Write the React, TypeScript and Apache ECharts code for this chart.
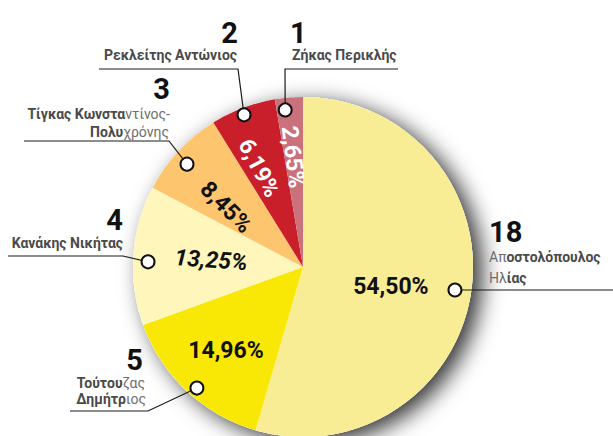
import React, { useEffect, useRef } from 'react';
import * as echarts from 'echarts';

// ---- data ----
const names = [
  'Αποστολόπουλος Ηλίας',
  'Τούτουζας Δημήτριος',
  'Κανάκης Νικήτας',
  'Τίγκας Κωνσταντίνος-Πολυχρόνης',
  'Ρεκλείτης Αντώνιος',
  'Ζήκας Περικλής',
];
const ranks = [18, 5, 4, 3, 2, 1];
const shares = [54.5, 14.96, 13.25, 8.45, 6.19, 2.65];

// ---- styling / layout ----
const colors = ['#F8EC94', '#F9E805', '#FFF6BC', '#FDC66E', '#C81F2B', '#C9727B'];
const pctColors = ['#111', '#111', '#111', '#111', '#fff', '#fff'];
const pctRotate = [0, 0, -4, -45, -62, -83];
const pctItalic = [false, false, true, false, false, false];
// [angle offset from slice middle (deg), radius fraction]
const pctPolar: [number, number][] = [
  [4.7, 0.53], [-0.6, 0.67], [0.4, 0.543], [-5.1, 0.574], [-3.3, 0.637], [-0.4, 0.65],
];
const markerPolar: [number, number][] = [
  [0.5, 0.904], [-1.9, 0.947], [-2.0, 0.912], [-1.4, 0.912], [-0.5, 0.96], [-1.7, 0.93],
];
// callout layout: align, rank pos, name lines, leader path (after marker)
const callouts = [
  {
    align: 'left', rank: [489, 232],
    lines: [['{l|Απ}{b|οστολόπουλος}', 489, 257], ['{l|Ηλ}{b|ίας}', 489, 278]],
    path: [[613, 'm']],
  },
  {
    align: 'right', rank: [143, 360],
    lines: [['{b|Τούτου}{l|ζας}', 145, 383], ['{b|Δημήτρ}{l|ιος}', 146, 399]],
    path: [[148, 411], [70, 411]],
  },
  {
    align: 'right', rank: [123, 220],
    lines: [['{b|Κανάκης Νικήτας}', 123, 243]],
    path: [[123, 256], [8, 256]],
  },
  {
    align: 'right', rank: [170, 89],
    lines: [['{b|Τίγκας Κωνστα}{l|ντίνος-}', 170, 114], ['{b|Πολυ}{l|χρόνης}', 169, 132]],
    path: [[169, 141], [24, 141]],
  },
  {
    align: 'right', rank: [238, 33],
    lines: [['{b|Ρεκλείτης Αντώνιος}', 237, 55]],
    path: [[238, 69], [99, 69]],
  },
  {
    align: 'left', rank: [290, 33],
    lines: [['{b|Ζήκας Περικλής}', 292, 55]],
    path: [[285, 69], [398, 69]],
  },
];

const CX = 303;
const CY = 267;
const R = 170;
const FONT = 'Roboto, "Noto Sans", "DejaVu Sans", sans-serif';

const fmt = (v: number) => v.toFixed(2).replace('.', ',') + '%';

export default function App() {
  const ref = useRef<HTMLDivElement>(null);

  useEffect(() => {
    const chart = echarts.init(ref.current!, null, { renderer: 'svg' });

    const total = shares.reduce((a, b) => a + b, 0);
    let acc = 0;
    const mids = shares.map((v) => {
      const a = ((acc + v / 2) / total) * 360;
      acc += v;
      return a;
    });
    const polar = (deg: number, rf: number): [number, number] => {
      const t = (deg * Math.PI) / 180;
      return [CX + rf * R * Math.sin(t), CY - rf * R * Math.cos(t)];
    };

    const pctPos = mids.map((m, i) => polar(m + pctPolar[i][0], pctPolar[i][1]));
    const markers = mids.map((m, i) => polar(m + markerPolar[i][0], markerPolar[i][1]));

    const rich = {
      b: { fontFamily: FONT, fontSize: 14, fontWeight: 'bold', fill: '#4a4a4a' },
      l: { fontFamily: FONT, fontSize: 14, fontWeight: 'normal', fill: '#6e6e6e' },
    };

    const elements: any[] = [];
    callouts.forEach((c, i) => {
      const [mx, my] = markers[i];
      const pts: number[][] = [[mx, my]];
      c.path.forEach((p: any) => pts.push([p[0], p[1] === 'm' ? my : p[1]]));
      elements.push({
        type: 'polyline',
        z: 10,
        shape: { points: pts },
        style: { stroke: '#1a1a1a', lineWidth: 1.2, fill: null },
      });
      elements.push({
        type: 'circle',
        z: 12,
        shape: { cx: mx, cy: my, r: 6.5 },
        style: { fill: '#fff', stroke: '#111', lineWidth: 2 },
      });
      elements.push({
        type: 'text',
        z: 12,
        x: c.rank[0],
        y: c.rank[1],
        style: {
          text: String(ranks[i]),
          fontFamily: FONT,
          fontSize: 29,
          fontWeight: 'bold',
          fill: '#111',
          align: c.align,
          verticalAlign: 'middle',
        },
      });
      c.lines.forEach((ln: any) => {
        elements.push({
          type: 'text',
          z: 12,
          x: ln[1],
          y: ln[2],
          style: {
            text: ln[0],
            rich,
            fontFamily: FONT,
            fontSize: 14,
            align: c.align,
            verticalAlign: 'middle',
          },
        });
      });
    });

    chart.setOption({
      animation: false,
      backgroundColor: '#ffffff',
      series: [
        {
          type: 'pie',
          silent: true,
          z: 1,
          center: [CX, CY],
          radius: R,
          startAngle: 90,
          data: [{ value: total, name: 'shadow' }],
          itemStyle: {
            color: '#ffffff',
            shadowBlur: 22,
            shadowColor: 'rgba(0,0,0,0.8)',
            shadowOffsetX: 9,
            shadowOffsetY: 6,
          },
          label: { show: false },
          labelLine: { show: false },
        },
        {
          type: 'pie',
          silent: true,
          z: 2,
          center: [CX, CY],
          radius: R,
          startAngle: 90,
          clockwise: true,
          avoidLabelOverlap: false,
          minShowLabelAngle: 0,
          data: shares.map((v, i) => ({
            value: v,
            name: names[i],
            itemStyle: { color: colors[i] },
            label: {
              color: pctColors[i],
              rotate: pctRotate[i],
              fontStyle: pctItalic[i] ? 'italic' : 'normal',
            },
          })),
          itemStyle: { borderWidth: 0 },
          label: {
            show: true,
            position: 'inside',
            formatter: (p: any) => fmt(p.value),
            fontFamily: FONT,
            fontWeight: 'bold',
            fontSize: 23,
          },
          labelLayout: (p: any) => ({
            x: pctPos[p.dataIndex][0],
            y: pctPos[p.dataIndex][1],
            rotate: pctRotate[p.dataIndex],
            align: 'center',
            verticalAlign: 'middle',
          }),
          labelLine: { show: false },
        },
      ],
      graphic: elements,
    });

    return () => chart.dispose();
  }, []);

  return (
    <div
      ref={ref}
      style={{ position: 'absolute', left: 0, top: 0, width: 613, height: 436, background: '#fff' }}
    />
  );
}
